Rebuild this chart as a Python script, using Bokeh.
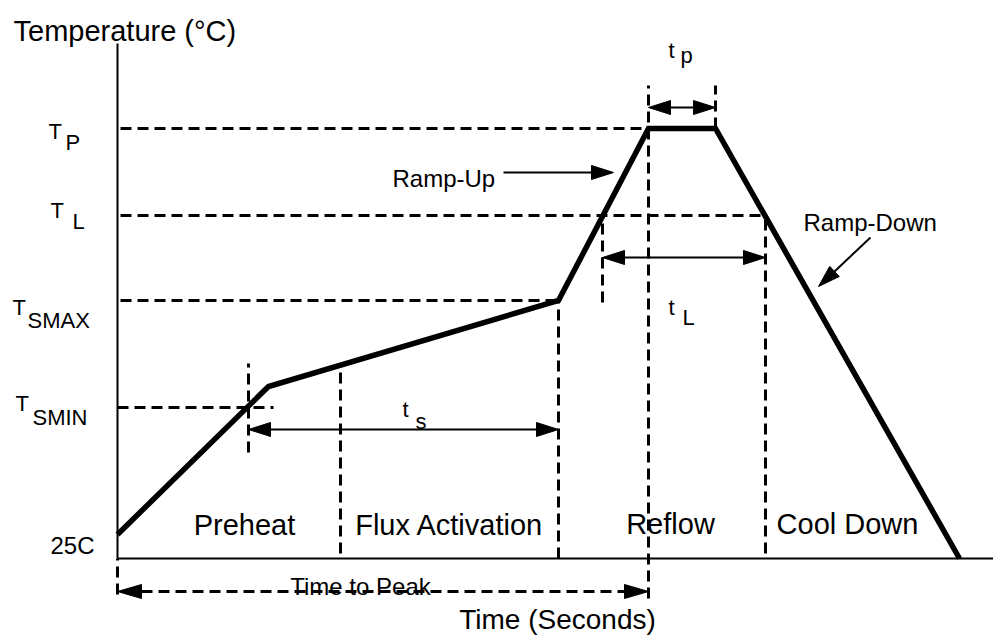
import math
from bokeh.plotting import figure
from bokeh.models import Range1d
from bokeh.core.properties import value
from bokeh.embed import file_html
from bokeh.resources import INLINE

# ---------------- data (schematic units: time ~ s, temperature ~ arbitrary) -------------
profile_time = [0, 151, 441, 531, 598, 842]
profile_temp = [24, 172, 258, 430, 430, 0]

level_names = ["25C", "SMIN", "SMAX", "L", "P"]
level_temp = [24, 151, 258, 343, 430]

event_names = ["ts_start", "preheat_end", "ts_end", "tL_start", "tp_start", "tp_end", "tL_end"]
event_time = [131, 223, 441, 485, 531, 598, 648]

phase_names = ["Preheat", "Flux Activation", "Reflow", "Cool Down"]

axis_title_y = "Temperature (°C)"
axis_title_x = "Time (Seconds)"

# -----------------------------------------------------------------------------------------
ev = dict(zip(event_names, event_time))
lv = dict(zip(level_names, level_temp))

FONT = value("Liberation Sans")

p = figure(width=993, height=636,
           x_range=Range1d(-117, 876), y_range=Range1d(-78, 558),
           x_axis_type=None, y_axis_type=None,
           output_backend="svg", toolbar_location=None, min_border=0)
p.grid.visible = False
p.outline_line_color = None
p.background_fill_color = "white"
p.border_fill_color = "white"

# axes lines
p.segment(x0=[0, 0], y0=[0, 0], x1=[0, 876], y1=[515, 0], line_color="black", line_width=2)

# dashed reference levels
dash = "11 6"
p.segment(x0=[3, 3, 3, 0],
          y0=[lv["P"], lv["L"], lv["SMAX"], lv["SMIN"]],
          x1=[ev["tp_start"] - 3, ev["tL_end"], ev["ts_end"] - 3, 156],
          y1=[lv["P"], lv["L"], lv["SMAX"], lv["SMIN"]],
          line_color="black", line_width=3, line_dash=dash)

# dashed vertical markers
vx = [ev["ts_start"], ev["preheat_end"], ev["ts_end"], ev["tL_start"],
      ev["tp_start"], ev["tp_end"], ev["tL_end"], 0]
vy0 = [106, 5, 0, 256, -40, lv["P"], 5, -36]
vy1 = [195, 190, lv["SMAX"], lv["L"], 473, 473, lv["L"], 0]
p.segment(x0=vx, y0=vy0, x1=vx, y1=vy1, line_color="black", line_width=3, line_dash=dash)

# profile curve
p.line(profile_time, profile_temp, line_color="black", line_width=5.5, line_join="miter")

# arrows
tri_x, tri_y = [], []
seg_solid = dict(x0=[], y0=[], x1=[], y1=[])
seg_dash = dict(x0=[], y0=[], x1=[], y1=[])


def head(xt, yt, ux, uy, hl, hw):
    bx, by = xt - ux * hl, yt - uy * hl
    nx, ny = -uy, ux
    tri_x.append([xt, bx + nx * hw / 2, bx - nx * hw / 2])
    tri_y.append([yt, by + ny * hw / 2, by - ny * hw / 2])
    return bx, by


def arrow(x0, y0, x1, y1, both=False, hl=22, hw=14, dashed=False):
    L = math.hypot(x1 - x0, y1 - y0)
    ux, uy = (x1 - x0) / L, (y1 - y0) / L
    ex, ey = head(x1, y1, ux, uy, hl, hw)
    sx, sy = x0, y0
    if both:
        sx, sy = head(x0, y0, -ux, -uy, hl, hw)
    d = seg_dash if dashed else seg_solid
    d["x0"].append(sx); d["y0"].append(sy); d["x1"].append(ex); d["y1"].append(ey)


arrow(ev["ts_start"], 129, ev["ts_end"], 129, both=True)
arrow(ev["tL_start"], 301, ev["tL_end"], 301, both=True)
arrow(ev["tp_start"], 451, ev["tp_end"], 451, both=True)
arrow(0, -33, ev["tp_start"], -33, both=True, hl=24, hw=14, dashed=True)
arrow(386, 386, 496, 386)
arrow(753, 321, 701, 272)

p.segment(**seg_solid, line_color="black", line_width=2)
p.segment(**seg_dash, line_color="black", line_width=3, line_dash=dash)
p.patches(tri_x, tri_y, fill_color="black", line_color="black", line_width=1)

# ---------------- texts ----------------
big = dict(text_font=FONT, text_font_size="29px", text_color="black", text_baseline="alphabetic")
mid = dict(text_font=FONT, text_font_size="24px", text_color="black", text_baseline="alphabetic")
sub = dict(text_font=FONT, text_font_size="22px", text_color="black", text_baseline="alphabetic")

p.text(x=[-104], y=[528], text=[axis_title_y], text_align="left", **big)
p.text(x=[440], y=[-61], text=[axis_title_x], text_align="center",
       text_font=FONT, text_font_size="28px", text_color="black", text_baseline="alphabetic")
p.text(x=[127, 332, 553, 730], y=[34, 34, 35, 35], text=phase_names, text_align="center", **big)

p.text(x=[-23], y=[13], text=[level_names[0]], text_align="right", **mid)
p.text(x=[243], y=[-28], text=["Time to Peak"], text_align="center", **mid)
p.text(x=[275, 686], y=[380, 336], text=["Ramp-Up", "Ramp-Down"], text_align="left", **mid)

# subscripted symbols: main letter + subscript
main_x = [-69, -67, -105, -102, 285, 551, 551]
main_y = [427, 348, 251, 155, 149, 508, 251]
main_t = ["T", "T", "T", "T", "t", "t", "t"]
sub_x = [-52, -45, -90, -85, 298, 563, 565]
sub_y = [416, 337, 238, 141, 137, 503, 241]
sub_t = [level_names[4], level_names[3], level_names[2], level_names[1], "s", "p", "L"]
p.text(x=main_x, y=main_y, text=main_t, text_align="left", **sub)
p.text(x=sub_x, y=sub_y, text=sub_t, text_align="left", **sub)

open("out.html", "w").write(file_html(p, INLINE))
